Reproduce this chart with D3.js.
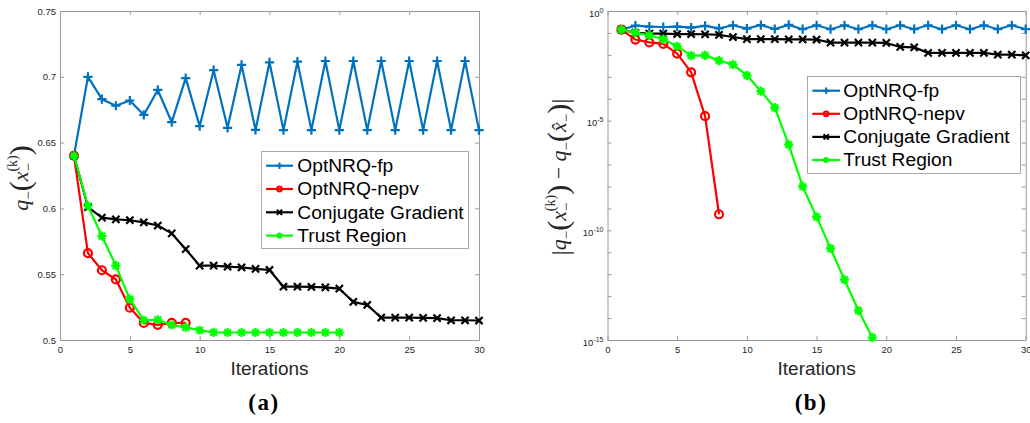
<!DOCTYPE html>
<html>
<head>
<meta charset="utf-8">
<script src="https://cdn.jsdelivr.net/npm/d3@7"></script>
<style>
  html, body { margin: 0; padding: 0; background: #fff; }
  svg { display: block; }
</style>
</head>
<body>
<svg id="fig" width="1030" height="423"></svg>
<script>
// ---- data ----
const seriesNames = ["OptNRQ-fp", "OptNRQ-nepv", "Conjugate Gradient", "Trust Region"];
const xTicks = [0, 5, 10, 15, 20, 25, 30];
const qTicks = [0.5, 0.55, 0.6, 0.65, 0.7, 0.75];
const errDecades = d3.range(0, -16, -1);      // tick marks at every decade 10^0 .. 10^-15
const errLabelExps = [0, -5, -10, -15];       // decades that carry a label

// (a) objective value q_-(x_-^(k)) per iteration
const qFp = [0.640, 0.700, 0.683, 0.678, 0.682, 0.671, 0.690, 0.6655, 0.699, 0.6625,
             0.705, 0.6612, 0.709, 0.6596, 0.711, 0.6595, 0.7115, 0.6595, 0.712, 0.6595,
             0.712, 0.6595, 0.712, 0.6595, 0.712, 0.6595, 0.712, 0.6595, 0.712, 0.6595];
const qNepv = [0.640, 0.566, 0.553, 0.546, 0.5245, 0.513, 0.5115, 0.513, 0.513];
const qCg = [0.640, 0.601, 0.593, 0.5917, 0.591, 0.5894, 0.587, 0.581, 0.569, 0.5565,
             0.5565, 0.5557, 0.5552, 0.554, 0.5532, 0.5405, 0.5405, 0.5403, 0.540, 0.539,
             0.529, 0.5266, 0.517, 0.517, 0.517, 0.5168, 0.5166, 0.515, 0.515, 0.5148];
const qTr = [0.640, 0.602, 0.579, 0.5565, 0.531, 0.515, 0.5154, 0.5114, 0.5096, 0.5074,
             0.5058, 0.5057, 0.5057, 0.5057, 0.5057, 0.5057, 0.5057, 0.5057, 0.5057, 0.5057];

// (b) error |q_-(x_-^(k)) - q_-(x^_-)| per iteration
const errFp = [0.141, 0.214, 0.195, 0.186, 0.195, 0.174, 0.209, 0.162, 0.224, 0.158,
               0.229, 0.151, 0.234, 0.148, 0.224, 0.148, 0.224, 0.148, 0.224, 0.148,
               0.224, 0.148, 0.224, 0.148, 0.224, 0.148, 0.224, 0.148, 0.224, 0.148];
const errNepv = [0.141, 0.050, 0.037, 0.032, 0.0115, 0.0016, 1.6e-5, 5.4e-10];
const errCg = [0.141, 0.102, 0.093, 0.093, 0.089, 0.089, 0.087, 0.081, 0.065, 0.052,
               0.052, 0.052, 0.051, 0.051, 0.050, 0.036, 0.036, 0.036, 0.036, 0.035,
               0.023, 0.022, 0.0123, 0.0123, 0.0123, 0.0123, 0.0123, 0.0102, 0.0102, 0.0095];
const errTr = [0.141, 0.102, 0.078, 0.052, 0.0245, 0.0093, 0.0095, 0.0055, 0.0036, 0.00117,
               2.2e-4, 3.9e-5, 8.1e-7, 1.0e-8, 4.1e-10, 1.5e-11, 5.6e-13, 2.2e-14, 1.3e-15];

// ---- styles ----
const seriesStyle = {
  "OptNRQ-fp":          { color: "#0072BD", marker: "plus",   r: 4.6, lr: 3.2 },
  "OptNRQ-nepv":        { color: "#FF0000", marker: "circle", r: 4.0, lr: 2.4 },
  "Conjugate Gradient": { color: "#000000", marker: "cross",  r: 3.6, lr: 2.6 },
  "Trust Region":       { color: "#00FF00", marker: "star",   r: 4.6, lr: 3.0 }
};
const AXIS_GRAY = "#9a9a9a";
const TEXT_DARK = "#262626";
const SANS = "'Liberation Sans', Arial, Helvetica, sans-serif";
const SERIF = "'Liberation Serif', 'Times New Roman', serif";

const svg = d3.select("#fig");
svg.append("rect").attr("width", 1030).attr("height", 423).attr("fill", "#fff");

const boxA = { l: 60, r: 479, t: 11, b: 340 };
const boxB = { l: 607.5, r: 1025.7, t: 11, b: 340 };

const xA = d3.scaleLinear().domain([0, 30]).range([boxA.l, boxA.r]);
const yA = d3.scaleLinear().domain([0.5, 0.75]).range([boxA.b, boxA.t]);
const xB = d3.scaleLinear().domain([0, 30]).range([boxB.l, boxB.r]);
const yB = d3.scaleLog().domain([1e-15, 1]).range([boxB.b, boxB.t]);

function styleAxis(g) {
  g.select(".domain").attr("stroke", AXIS_GRAY);
  g.selectAll(".tick line").attr("stroke", AXIS_GRAY);
  g.selectAll(".tick text")
    .attr("fill", TEXT_DARK)
    .attr("font-family", SANS)
    .attr("font-size", "9.5px");
}

function drawFrame(box, x, y, yTickVals, yFmt) {
  const g = svg.append("g");
  g.append("g").attr("transform", `translate(0,${box.b})`)
    .call(d3.axisBottom(x).tickValues(xTicks).tickSizeInner(-4).tickSizeOuter(0).tickPadding(6.5))
    .call(styleAxis);
  g.append("g").attr("transform", `translate(0,${box.t})`)
    .call(d3.axisTop(x).tickValues(xTicks).tickSizeInner(-4).tickSizeOuter(0).tickFormat(""))
    .call(styleAxis);
  const left = g.append("g").attr("transform", `translate(${box.l},0)`)
    .call(d3.axisLeft(y).tickValues(yTickVals).tickSizeInner(-4).tickSizeOuter(0).tickPadding(4).tickFormat(yFmt))
    .call(styleAxis);
  g.append("g").attr("transform", `translate(${box.r},0)`)
    .call(d3.axisRight(y).tickValues(yTickVals).tickSizeInner(-4).tickSizeOuter(0).tickFormat(""))
    .call(styleAxis);
  return left;
}

// panel (a) frame
drawFrame(boxA, xA, yA, qTicks, d => String(d));

// panel (b) frame with power-of-ten labels
const logLeft = drawFrame(boxB, xB, yB, errDecades.map(e => Math.pow(10, e)),
  d => errLabelExps.includes(Math.round(Math.log10(d))) ? "10" : "");
logLeft.selectAll(".tick text").each(function (d) {
  const t = d3.select(this);
  if (t.text() === "") return;
  const e = Math.round(Math.log10(d));
  t.attr("dy", "0.55em");
  t.append("tspan").attr("dy", "-0.6em").attr("font-size", "7px").text(String(e));
});

// ---- marker shapes ----
function markerPath(kind, r) {
  const plus = `M${-r},0H${r}M0,${-r}V${r}`;
  const cross = s => `M${-s},${-s}L${s},${s}M${-s},${s}L${s},${-s}`;
  switch (kind) {
    case "plus": return plus;
    case "circle": return `M${r},0A${r},${r},0,1,1,${-r},0A${r},${r},0,1,1,${r},0Z`;
    case "cross": return cross(r);
    case "star": return plus + cross(r * 0.72);
  }
}

function drawSeries(x, y, vals, name) {
  const st = seriesStyle[name];
  const pts = vals.map((v, i) => ({ i: i + 1, v }));
  const g = svg.append("g");
  g.append("path").datum(pts)
    .attr("d", d3.line().x(d => x(d.i)).y(d => y(d.v)))
    .attr("fill", "none").attr("stroke", st.color)
    .attr("stroke-width", 2.2).attr("stroke-linejoin", "round");
  g.selectAll("path.mk").data(pts).join("path")
    .attr("class", "mk")
    .attr("transform", d => `translate(${x(d.i)},${y(d.v)})`)
    .attr("d", markerPath(st.marker, st.r))
    .attr("fill", "none").attr("stroke", st.color).attr("stroke-width", 2.2);
}

const seriesA = [qFp, qNepv, qCg, qTr];
const seriesB = [errFp, errNepv, errCg, errTr];
seriesNames.forEach((n, k) => drawSeries(xA, yA, seriesA[k], n));
seriesNames.forEach((n, k) => drawSeries(xB, yB, seriesB[k], n));

// ---- legends ----
function drawLegend(bx, by, bw, bh, row0, step, lx0, lx1, tx) {
  const g = svg.append("g");
  g.append("rect").attr("x", bx).attr("y", by).attr("width", bw).attr("height", bh)
    .attr("fill", "#fff").attr("stroke", "#a8a8a8").attr("stroke-width", 1);
  seriesNames.forEach((n, k) => {
    const st = seriesStyle[n];
    const yy = row0 + k * step;
    g.append("line").attr("x1", lx0).attr("x2", lx1).attr("y1", yy).attr("y2", yy)
      .attr("stroke", st.color).attr("stroke-width", 2.2);
    g.append("path").attr("transform", `translate(${(lx0 + lx1) / 2},${yy})`)
      .attr("d", markerPath(st.marker, st.lr))
      .attr("fill", "none").attr("stroke", st.color).attr("stroke-width", 2);
    g.append("text").attr("x", tx).attr("y", yy + 6.2)
      .attr("font-family", SANS).attr("font-size", "19.2px").attr("fill", "#000")
      .text(n);
  });
}
drawLegend(261.5, 151.5, 207, 97, 165.7, 23.3, 266, 293, 297.3);
drawLegend(807.5, 76.5, 213, 97, 90.7, 23.1, 812.3, 840, 843.3);

// ---- axis titles ----
[[xA, 269.5], [xB, 816.6]].forEach(([x, cx]) => {
  svg.append("text").attr("x", cx).attr("y", 375).attr("text-anchor", "middle")
    .attr("font-family", SANS).attr("font-size", "19px").attr("fill", TEXT_DARK)
    .text("Iterations");
});

function mathLabel(cx, cy, segs) {
  const t = svg.append("text")
    .attr("transform", `translate(${cx},${cy}) rotate(-90)`)
    .attr("text-anchor", "middle")
    .attr("font-family", SERIF).attr("font-size", 22).attr("fill", TEXT_DARK);
  let cur = 0;
  segs.forEach(s => {
    const sh = s.shift || 0;
    const ts = t.append("tspan").attr("dy", sh - cur).text(s.t);
    cur = sh;
    if (s.size) ts.attr("font-size", s.size);
    if (s.it) ts.attr("font-style", "italic");
    if (s.dx) ts.attr("dx", s.dx);
  });
}

const qOfXk = [
  { t: "q", it: 1 }, { t: "\u2212", size: 15, shift: 5 },
  { t: "(", size: 30, shift: 2 }, { t: "x", it: 1, shift: 0 },
  { t: "\u2212", size: 15, shift: 5 }, { t: "(k)", size: 14, shift: -11, dx: -8.5 },
  { t: ")", size: 30, shift: 2 }
];
mathLabel(28, 178, qOfXk);
mathLabel(566, 177, [
  { t: "|", size: 26, shift: 3 },
  ...qOfXk,
  { t: " \u2212 ", size: 22, shift: 0 },
  { t: "q", it: 1 }, { t: "\u2212", size: 15, shift: 5 },
  { t: "(", size: 30, shift: 2 }, { t: "x\u0302", it: 1, shift: 0 },
  { t: "\u2212", size: 15, shift: 5 }, { t: ")", size: 30, shift: 2 },
  { t: "|", size: 26, shift: 3 }
]);

// ---- panel captions ----
[["(a)", 264], ["(b)", 811]].forEach(([s, cx]) => {
  svg.append("text").attr("x", cx).attr("y", 410).attr("text-anchor", "middle")
    .attr("font-family", SERIF).attr("font-weight", "bold").attr("font-size", "23px")
    .attr("letter-spacing", "1.5px").attr("fill", "#000").text(s);
});
</script>
</body>
</html>
